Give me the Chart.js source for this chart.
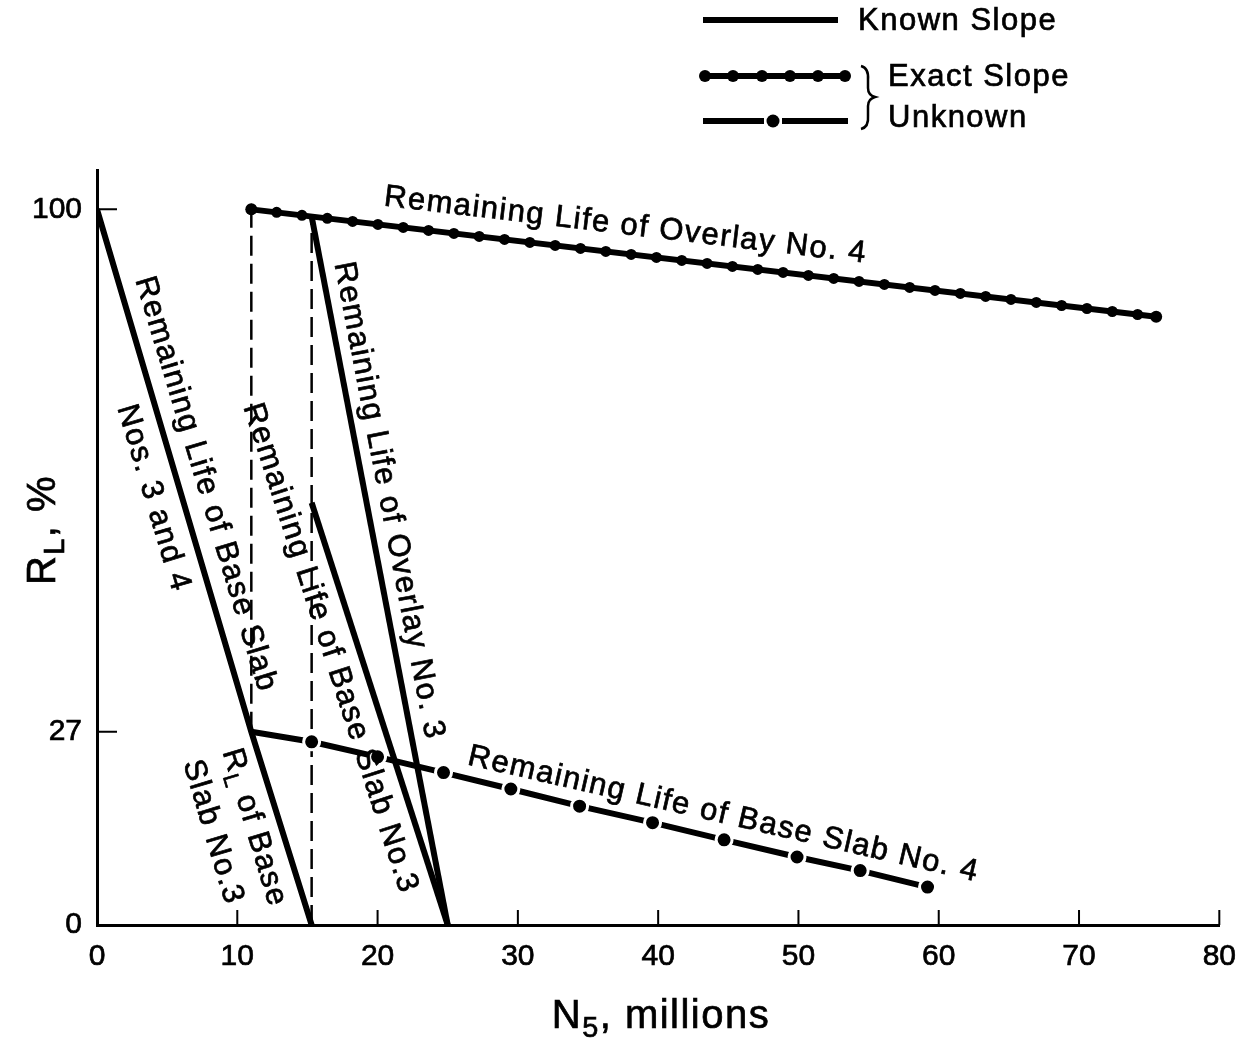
<!DOCTYPE html>
<html>
<head>
<meta charset="utf-8">
<script src="https://cdn.jsdelivr.net/npm/chart.js@4/dist/chart.umd.min.js"></script>
<style>
  html, body { margin: 0; padding: 0; background: #fff; }
  #wrap { width: 1250px; height: 1049px; position: relative; }
</style>
</head>
<body>
<div id="wrap"><canvas id="rl"></canvas></div>
<script>
// remaining life R_L (%) against N5 (millions of loads)
const xTicks = [0, 10, 20, 30, 40, 50, 60, 70, 80];
const yTicks = [0, 27, 100];

const baseSlab34 = [{x: 0, y: 100}, {x: 11, y: 27}, {x: 15.3, y: 0}];
const overlay4 = [{x: 11, y: 100}, {x: 75.5, y: 85}];
const overlay3 = [{x: 15.3, y: 99}, {x: 25, y: 0}];
const baseSlab3 = [{x: 15.3, y: 59}, {x: 25, y: 0}];
const baseSlab4 = [
    {x: 11, y: 27}, {x: 15.3, y: 25.6}, {x: 20, y: 23.5}, {x: 24.7, y: 21.3},
    {x: 29.5, y: 19.0}, {x: 34.4, y: 16.6}, {x: 39.6, y: 14.3}, {x: 44.7, y: 11.9},
    {x: 49.9, y: 9.5}, {x: 54.4, y: 7.6}, {x: 59.2, y: 5.3},
];
const drop11 = [{x: 11, y: 27}, {x: 11, y: 100}];
const drop15 = [{x: 15.3, y: 0}, {x: 15.3, y: 99}];

const FONT = "'Liberation Sans', Arial, Helvetica, sans-serif";
const LABEL_SIZE = 31;

// labels written along the lines: t = position along the line, off = shift across it
const lineLabels = [
    {line: overlay4, t: 0.41, off: -28, parts: ["Remaining Life of Overlay No. 4"]},
    {line: baseSlab4, t: 0.69, off: -25, parts: ["Remaining Life of Base Slab No. 4"]},
    {line: overlay3, t: 0.407, off: -22, parts: ["Remaining Life of Overlay No. 3"]},
    {line: baseSlab3, t: 0.325, off: 27, parts: ["Remaining Life of Base Slab No.3"]},
    {line: baseSlab34, t: 0.394, off: -25, parts: ["Remaining Life of Base Slab"]},
    {line: baseSlab34, t: 0.392, off: 29, parts: ["Nos. 3 and 4"]},
    {line: baseSlab34, t: 0.853, off: 27, parts: ["R", {sub: "L"}, " of Base"]},
    {line: baseSlab34, t: 0.843, off: 68, parts: ["Slab No.3"]},
];

function richWidth(ctx, parts, size) {
    let w = 0;
    for (const p of parts) {
        const sub = typeof p !== "string";
        ctx.font = (sub ? size * 0.72 : size) + "px " + FONT;
        w += ctx.measureText(sub ? p.sub : p).width;
    }
    return w;
}

// text with a light outline so it reads as heavy as the line work
function drawRich(ctx, parts, size, x, y) {
    ctx.textAlign = "left";
    ctx.textBaseline = "middle";
    ctx.lineWidth = 0.7;
    for (const p of parts) {
        const sub = typeof p !== "string";
        const txt = sub ? p.sub : p;
        const ty = sub ? y + size * 0.3 : y;
        ctx.font = (sub ? size * 0.72 : size) + "px " + FONT;
        ctx.fillText(txt, x, ty);
        ctx.strokeText(txt, x, ty);
        x += ctx.measureText(txt).width;
    }
}

const annotations = {
    id: "annotations",
    beforeDatasetsDraw(chart) {
        const ctx = chart.ctx;
        const xs = chart.scales.x, ys = chart.scales.y;
        const area = chart.chartArea;
        // inward tick marks
        ctx.save();
        ctx.strokeStyle = "#000";
        ctx.lineWidth = 2;
        ctx.beginPath();
        xTicks.slice(1).forEach(v => {
            const px = xs.getPixelForValue(v);
            ctx.moveTo(px, area.bottom);
            ctx.lineTo(px, area.bottom - 15);
        });
        yTicks.slice(1).forEach(v => {
            const py = ys.getPixelForValue(v);
            ctx.moveTo(area.left, py);
            ctx.lineTo(area.left + 20, py);
        });
        ctx.stroke();
        ctx.restore();
    },
    afterDraw(chart) {
        const ctx = chart.ctx;
        const xs = chart.scales.x, ys = chart.scales.y;
        ctx.save();
        ctx.fillStyle = "#000";
        ctx.strokeStyle = "#000";
        ctx.letterSpacing = "1.5px";

        // labels along lines
        lineLabels.forEach(l => {
            const a = l.line[0], b = l.line[l.line.length - 1];
            const ax = xs.getPixelForValue(a.x), ay = ys.getPixelForValue(a.y);
            const bx = xs.getPixelForValue(b.x), by = ys.getPixelForValue(b.y);
            const ang = Math.atan2(by - ay, bx - ax);
            const cx = ax + l.t * (bx - ax) - l.off * Math.sin(ang);
            const cy = ay + l.t * (by - ay) + l.off * Math.cos(ang);
            ctx.save();
            ctx.translate(cx, cy);
            ctx.rotate(ang);
            const w = richWidth(ctx, l.parts, LABEL_SIZE);
            drawRich(ctx, l.parts, LABEL_SIZE, -w / 2, 0);
            ctx.restore();
        });

        // axis titles
        const tParts = ["N", {sub: "5"}, ", millions"];
        let w = richWidth(ctx, tParts, 40);
        drawRich(ctx, tParts, 40, 661 - w / 2, 1017);
        const yParts = ["R", {sub: "L"}, ", %"];
        ctx.save();
        ctx.translate(44, 530);
        ctx.rotate(-Math.PI / 2);
        w = richWidth(ctx, yParts, 40);
        drawRich(ctx, yParts, 40, -w / 2, 0);
        ctx.restore();

        // key
        ctx.lineWidth = 6;
        ctx.lineCap = "butt";
        ctx.beginPath();
        ctx.moveTo(703, 20); ctx.lineTo(838, 20);
        ctx.moveTo(703, 76); ctx.lineTo(845, 76);
        ctx.moveTo(703, 121); ctx.lineTo(764, 121);
        ctx.moveTo(782, 121); ctx.lineTo(848, 121);
        ctx.stroke();
        [705, 733, 762, 790, 818, 845].forEach(x => {
            ctx.beginPath(); ctx.arc(x, 76, 6, 0, Math.PI * 2); ctx.fill();
        });
        ctx.beginPath(); ctx.arc(773, 121, 6.5, 0, Math.PI * 2); ctx.fill();
        // brace joining the two unknown-slope styles
        ctx.lineWidth = 2.5;
        ctx.beginPath();
        ctx.moveTo(861, 66);
        ctx.quadraticCurveTo(869, 68, 868, 80);
        ctx.lineTo(868, 88);
        ctx.quadraticCurveTo(868, 95, 875, 97);
        ctx.quadraticCurveTo(868, 99, 868, 106);
        ctx.lineTo(868, 116);
        ctx.quadraticCurveTo(869, 127, 861, 129);
        ctx.stroke();
        drawRich(ctx, ["Known Slope"], LABEL_SIZE, 858, 21);
        drawRich(ctx, ["Exact Slope"], LABEL_SIZE, 888, 77);
        drawRich(ctx, ["Unknown"], LABEL_SIZE, 888, 118);
        ctx.restore();
    },
};

const solid = {borderColor: "#000", borderWidth: 6, pointRadius: 0, tension: 0, fill: false};
const dashed = {borderColor: "#000", borderWidth: 2.5, borderDash: [20, 8], pointRadius: 0, fill: false};
const tickFont = {color: "#000", textStrokeColor: "#000", textStrokeWidth: 0.7, font: {family: FONT, size: 30}};

new Chart(document.getElementById("rl"), {
    type: "line",
    data: {
        datasets: [
            {label: "Base slab Nos. 3 and 4", data: baseSlab34, ...solid},
            {label: "Overlay No. 3", data: overlay3, ...solid},
            {label: "Base slab No. 3", data: baseSlab3, ...solid},
            {
                label: "Overlay No. 4", data: overlay4, ...solid,
                pointRadius: 6, pointBackgroundColor: "#000", pointBorderWidth: 0,
            },
            {
                label: "Overlay No. 4 dots", data: overlay4, borderColor: "#000",
                borderWidth: 11, borderDash: [0, 25.5], borderCapStyle: "round", pointRadius: 0,
            },
            {
                label: "Base slab No. 4", data: baseSlab4, borderColor: "#000", borderWidth: 6,
                pointRadius: c => (c.dataIndex === 0 ? 0 : 8),
                pointBackgroundColor: "#000", pointBorderColor: "#fff", pointBorderWidth: 3,
            },
            {label: "drop 11", data: drop11, ...dashed},
            {label: "drop 15.3", data: drop15, ...dashed},
        ],
    },
    options: {
        responsive: true,
        maintainAspectRatio: false,
        animation: false,
        layout: {padding: {top: 170, right: 24, left: 0, bottom: 0}},
        plugins: {legend: {display: false}, tooltip: {enabled: false}},
        scales: {
            x: {
                type: "linear",
                min: 0,
                max: 80,
                afterBuildTicks: s => { s.ticks = xTicks.map(v => ({value: v})); },
                afterFit: s => { s.height = 124; },
                grid: {display: true, drawOnChartArea: false, drawTicks: false},
                border: {display: true, color: "#000", width: 3},
                ticks: {...tickFont, padding: 14, maxRotation: 0},
            },
            y: {
                type: "linear",
                min: 0,
                max: 105.5,
                afterBuildTicks: s => { s.ticks = yTicks.map(v => ({value: v})); },
                afterFit: s => { s.width = 97; },
                grid: {display: true, drawOnChartArea: false, drawTicks: false},
                border: {display: true, color: "#000", width: 3},
                ticks: {...tickFont, padding: 15},
            },
        },
    },
    plugins: [annotations],
});
</script>
</body>
</html>
